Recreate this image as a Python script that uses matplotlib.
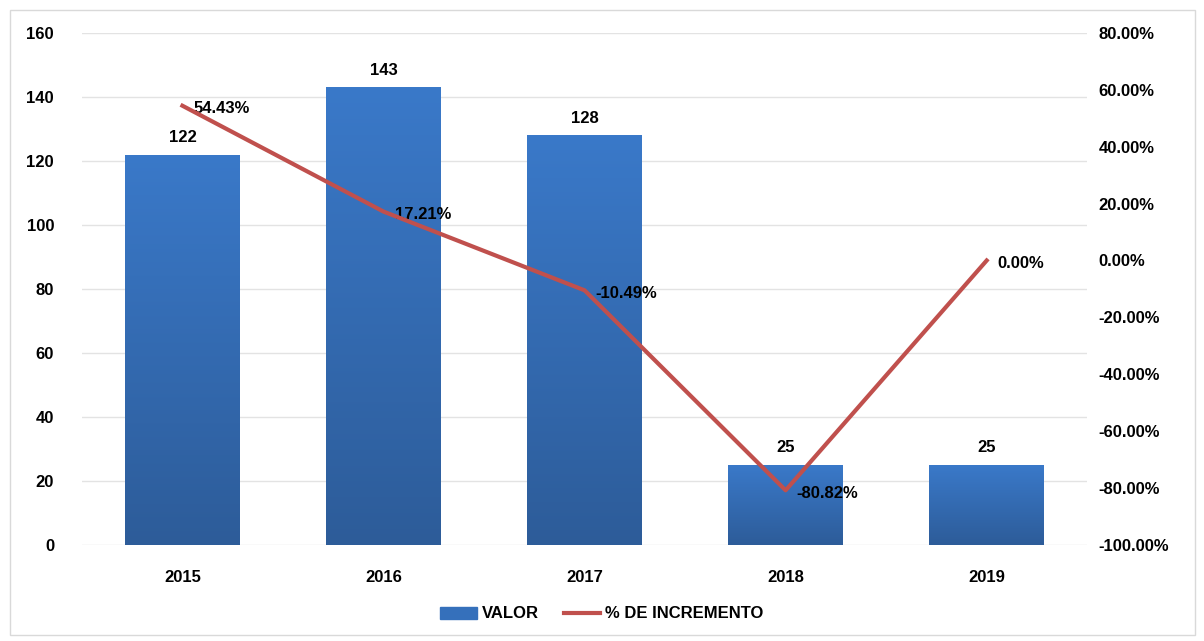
import numpy as np
import matplotlib
matplotlib.use("Agg")
import matplotlib.pyplot as plt
from matplotlib.patches import Rectangle
from matplotlib.lines import Line2D
from matplotlib.colors import LinearSegmentedColormap

years = ["2015", "2016", "2017", "2018", "2019"]
valor = [122, 143, 128, 25, 25]
incremento = [54.43, 17.21, -10.49, -80.82, 0.00]
pct_labels = ["54.43%", "17.21%", "-10.49%", "-80.82%", "0.00%"]

plt.rcParams["font.family"] = ["Liberation Sans", "DejaVu Sans"]
plt.rcParams["font.weight"] = "bold"

fig = plt.figure(figsize=(12.04, 6.41), dpi=100)
fig.patches.append(Rectangle((10 / 1204, 6 / 641), 1185 / 1204, 625 / 641,
                             transform=fig.transFigure, fill=False,
                             edgecolor="#d9d9d9", linewidth=1))

ax = fig.add_axes([0.068, 0.150, 0.835, 0.7985])
x = np.arange(len(years))
bars = ax.bar(x, valor, width=0.57, color="#3570bb", zorder=2)

# vertical gradient on each bar
grad = LinearSegmentedColormap.from_list("g", ["#2d5c99", "#3a79c9"])
gimg = np.linspace(0, 1, 256).reshape(-1, 1)
for b in bars:
    xb, w, h = b.get_x(), b.get_width(), b.get_height()
    im = ax.imshow(gimg, cmap=grad, origin="lower", aspect="auto",
                   extent=(xb, xb + w, 0, h), zorder=2.1)
    im.set_clip_path(b)

for xi, v in zip(x, valor):
    ax.annotate(str(v), (xi, v), xytext=(0, 7), textcoords="offset points",
                ha="center", va="bottom", fontsize=12, fontweight="bold")

ax.set_xlim(-0.5, 4.5)
ax.set_ylim(0, 160)
ax.set_yticks(range(0, 161, 20))
ax.set_xticks(x)
ax.set_xticklabels(years)
ax.grid(axis="y", color="#e3e3e3", linewidth=1, zorder=0)
ax.set_axisbelow(True)
for s in ax.spines.values():
    s.set_visible(False)
ax.tick_params(length=0, labelsize=12)
ax.tick_params(axis="y", pad=20)
ax.tick_params(axis="x", pad=18)

ax2 = ax.twinx()
ax2.plot(x, incremento, color="#c0504d", linewidth=3, zorder=5)
for xi, v, t in zip(x, incremento, pct_labels):
    ax2.annotate(t, (xi, v), xytext=(8, -2), textcoords="offset points",
                 ha="left", va="center", fontsize=12, fontweight="bold")
ax2.set_ylim(-100, 80)
ax2.set_yticks(range(-100, 81, 20))
ax2.set_yticklabels([f"{t:.2f}%" for t in range(-100, 81, 20)])
for s in ax2.spines.values():
    s.set_visible(False)
ax2.tick_params(length=0, labelsize=12, pad=8)

handles = [Rectangle((0, 0), 1, 1, color="#3570bb"),
           Line2D([0], [0], color="#c0504d", linewidth=3)]
fig.legend(handles, ["VALOR", "% DE INCREMENTO"], loc="center",
           bbox_to_anchor=(0.5, 1 - 614 / 641), ncol=2, frameon=False,
           prop={"size": 12, "weight": "bold"}, handlelength=2.2,
           handletextpad=0.3, columnspacing=1.5)

fig.savefig("out.png", dpi=100)
